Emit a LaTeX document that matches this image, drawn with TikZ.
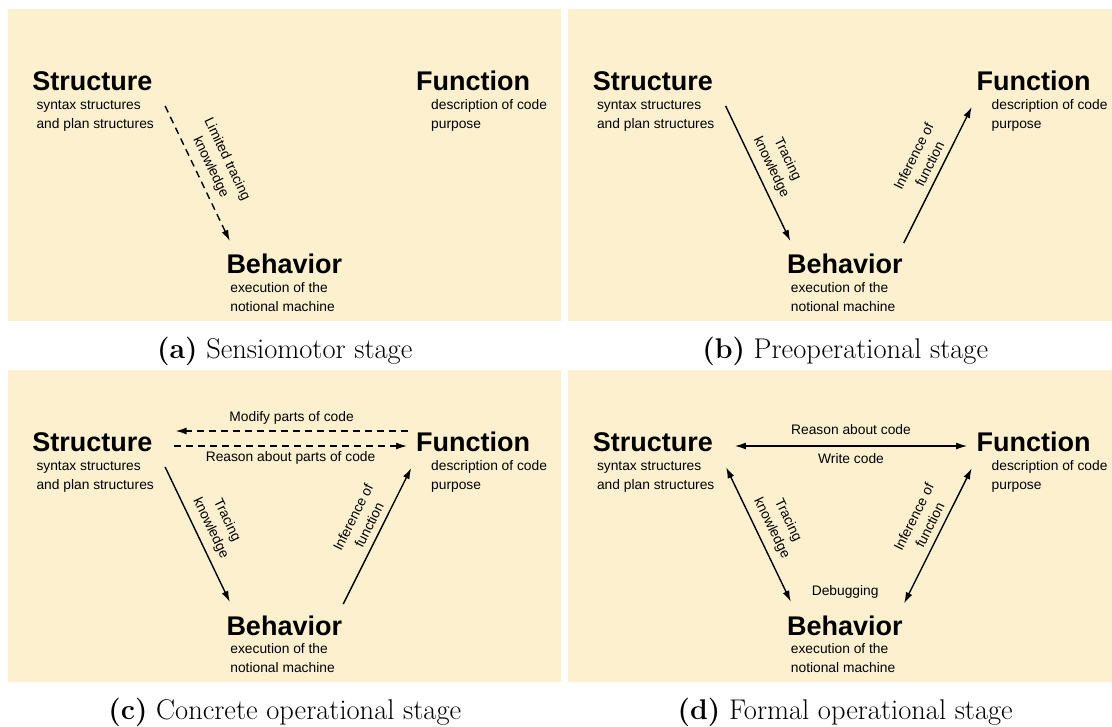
\documentclass[tikz,border=0pt]{standalone}
\usepackage{fontspec}
\usetikzlibrary{arrows.meta}
\newfontfamily\diafont{Liberation Sans}
\definecolor{panelbg}{RGB}{253,240,206}

\newcommand{\sbfnodes}[3]{%
	\fill[panelbg] (7.5,9) rectangle (561,321);
	\node[ttl] (#1str) at (32.2,91) {Structure};
	\node[subtxt] (#1strtxt) at (36.3,128.3) {syntax structures\\and plan structures};
	\node[ttl] (#1fun) at (416,91) {Function};
	\node[subtxt] (#1funtxt) at (431,128.3) {description of code\\purpose};
	\node[ttl] (#1beh) at (226.3,274) {Behavior};
	\node[subtxt] (#1behtxt) at (230.2,311.7) {execution of the\\notional machine};
	\node[captxt] (#1cap) at (284.75,358.3) {\textbf{(#2)} #3};
}

\begin{document}
\begin{tikzpicture}[x=1pt, y=-1pt, >={Latex[length=11pt,width=7pt]},
		ttl/.style={anchor=base west, inner sep=0pt, font=\diafont\bfseries\fontsize{27}{30}\selectfont},
		subtxt/.style={anchor=base west, inner sep=0pt, align=left, font=\diafont\fontsize{13.8}{19}\selectfont},
		lbl/.style={align=center, font=\diafont\fontsize{13.8}{18}\selectfont},
		captxt/.style={anchor=base, inner sep=0pt, font=\fontsize{28.5}{32}\selectfont},
		arr/.style={line width=1.4pt, ->},
		dsh/.style={arr, dash pattern=on 7pt off 5pt}]
	\useasboundingbox (0,0) rectangle (1112,727);
	\clip (0,0) rectangle (1112,727);
	\fill[white] (0,0) rectangle (1112,727);
	
	\begin{scope}
		\sbfnodes{a-}{a}{Sensiomotor stage}
		\draw[dsh] ([shift={(12.5,15)}]a-str.base east) -- ([shift={(3.5,-33)}]a-beh.base west) node[lbl, midway, sloped, above=4pt] {Limited tracing\\knowledge};
	\end{scope}
	
	\begin{scope}[shift={(560.5,0)}]
		\sbfnodes{b-}{b}{Preoperational stage}
		\draw[arr] ([shift={(12.5,15)}]b-str.base east) -- ([shift={(3.5,-33)}]b-beh.base west) node[lbl, midway, sloped, above=4pt] {Tracing\\knowledge};
		\draw[arr] ([shift={(1,-31)}]b-beh.base east) -- ([shift={(-4.8,16)}]b-fun.base west) node[lbl, pos=0.54, sloped, above=3pt] {Inference of\\function};
	\end{scope}
	
	\begin{scope}[shift={(0,361)}]
		\sbfnodes{c-}{c}{Concrete operational stage}
		\draw[dsh] ([shift={(-8.5,-21)}]c-fun.base west) -- ([shift={(23,-21)}]c-str.base east) node[lbl, midway, anchor=base, yshift=10pt] {Modify parts of code};
		\draw[dsh] ([shift={(21.5,-6)}]c-str.base east) -- ([shift={(-9,-6)}]c-fun.base west) node[lbl, midway, anchor=base, yshift=-15.7pt] {Reason about parts of code};
		\draw[arr] ([shift={(12.5,15)}]c-str.base east) -- ([shift={(3.5,-33)}]c-beh.base west) node[lbl, midway, sloped, above=4pt] {Tracing\\knowledge};
		\draw[arr] ([shift={(1,-31)}]c-beh.base east) -- ([shift={(-4.8,16)}]c-fun.base west) node[lbl, pos=0.54, sloped, above=3pt] {Inference of\\function};
	\end{scope}
	
	\begin{scope}[shift={(560.5,361)}]
		\sbfnodes{d-}{d}{Formal operational stage}
		\draw[arr, <->] ([shift={(21.8,-6)}]d-str.base east) -- ([shift={(-9.4,-6)}]d-fun.base west) node[lbl, midway, anchor=base, yshift=11pt] {Reason about code} node[lbl, midway, anchor=base, yshift=-18pt] {Write code};
		\draw[arr, <->] ([shift={(13,15.3)}]d-str.base east) -- ([shift={(4,-33.3)}]d-beh.base west) node[lbl, midway, sloped, above=4pt] {Tracing\\knowledge};
		\draw[arr, <->] ([shift={(1.4,-31.7)}]d-beh.base east) -- ([shift={(-4.8,16.3)}]d-fun.base west) node[lbl, pos=0.54, sloped, above=3pt] {Inference of\\function};
		\node[lbl, anchor=base] (d-dbg) at (284.7,234.7) {Debugging};
	\end{scope}
\end{tikzpicture}
\end{document}
